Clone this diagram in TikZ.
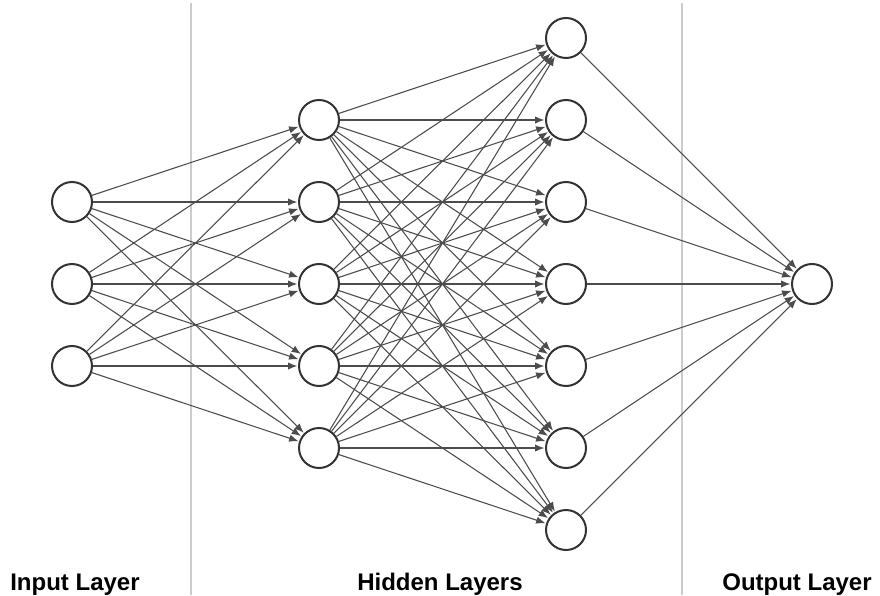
\documentclass[tikz,border=0pt]{standalone}
\usepackage{fontspec}
\setmainfont{Liberation Sans}
\usetikzlibrary{arrows.meta}

\begin{document}
\begin{tikzpicture}[
  x=0.75pt, y=-0.75pt,
  neuron/.style={draw=black!80, line width=1.5pt, circle, minimum size=30pt, inner sep=0pt, fill=white},
  edge/.style={-{Latex[length=7pt,width=5.5pt]}, draw=black!70, line width=0.8pt, shorten >=0.5pt},
  divider/.style={draw=black!20, line width=1.5pt},
  layerlabel/.style={anchor=base, font=\bfseries\fontsize{18}{20}\selectfont}
]
\useasboundingbox (0,0) rectangle (880,595);

% Layer dividers
\draw[divider] (191,3) -- (191,595);
\draw[divider] (682,3) -- (682,595);

% Neurons
\foreach \i in {1,...,3}
  \node[neuron] (in\i) at (72,{120+82*\i}) {};
\foreach \i in {1,...,5}
  \node[neuron] (ha\i) at (319,{38+82*\i}) {};
\foreach \i in {1,...,7}
  \node[neuron] (hb\i) at (566,{-44+82*\i}) {};
\node[neuron] (out) at (812,284) {};

% Connections
\foreach \i in {1,...,3}
  \foreach \j in {1,...,5}
    \draw[edge] (in\i) -- (ha\j);
\foreach \i in {1,...,5}
  \foreach \j in {1,...,7}
    \draw[edge] (ha\i) -- (hb\j);
\foreach \i in {1,...,7}
  \draw[edge] (hb\i) -- (out);

% Labels
\node[layerlabel] (inlabel) at (75,590) {Input Layer};
\node[layerlabel] (hidlabel) at (440,590) {Hidden Layers};
\node[layerlabel] (outlabel) at (797,590) {Output Layer};

\end{tikzpicture}
\end{document}
